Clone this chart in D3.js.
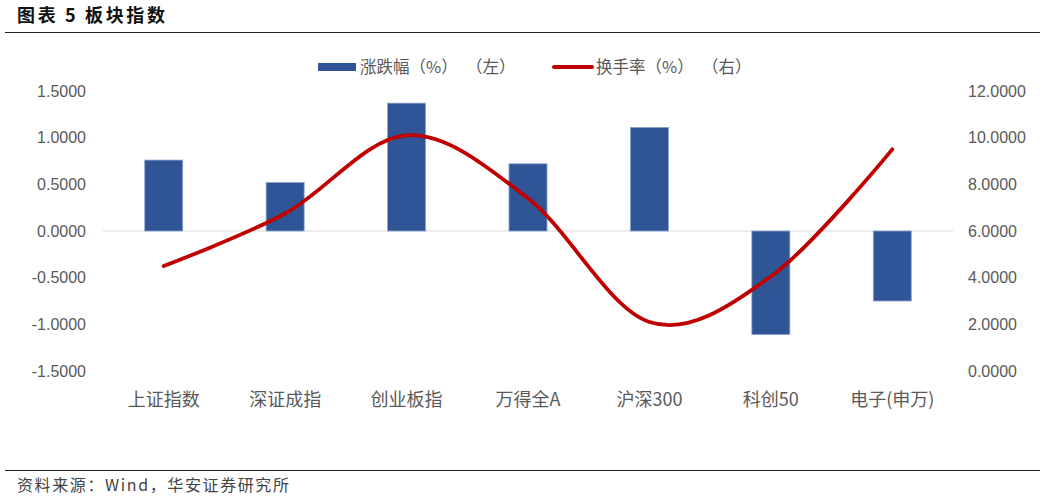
<!DOCTYPE html>
<html>
<head>
<meta charset="utf-8">
<script src="https://cdn.jsdelivr.net/npm/d3@7"></script>
<style>
  body { margin: 0; background: #fff; }
  text { font-family: "Liberation Sans", Arial, "Noto Sans CJK SC", sans-serif; }
  .cjk { font-family: "Noto Sans CJK SC", sans-serif; }
</style>
</head>
<body>
<div id="chart"></div>
<script>
const width = 1046;
const height = 501;

// data
const categories = ["上证指数", "深证成指", "创业板指", "万得全A", "沪深300", "科创50", "电子(申万)"];
const change = [0.76, 0.52, 1.37, 0.72, 1.11, -1.11, -0.75];    // 涨跌幅 (%) left axis
const turnover = [4.5, 6.75, 10.1, 7.4, 2.1, 4.05, 9.5];        // 换手率 (%) right axis
const leftTicks = [1.5, 1.0, 0.5, 0, -0.5, -1.0, -1.5];
const rightTicks = [12, 10, 8, 6, 4, 2, 0];
const legendItems = [
  {name: "涨跌幅（%）", side: "（左）", type: "bar"},
  {name: "换手率（%）", side: "（右）", type: "line"}
];

const fmt = d => d3.format(".4f")(d).replace("−", "-");

const svg = d3.select("#chart")
    .append("svg")
    .attr("width", width)
    .attr("height", height);

// title + rules
svg.append("text")
    .attr("class", "cjk")
    .attr("x", 17).attr("y", 22)
    .attr("font-size", 18).attr("font-weight", "bold")
    .attr("fill", "#111")
    .attr("textLength", 148)
    .text("图表 5 板块指数");
svg.append("line").attr("x1", 5).attr("x2", 1040).attr("y1", 32.5).attr("y2", 32.5)
    .attr("stroke", "#222").attr("stroke-width", 1.2);
svg.append("line").attr("x1", 5).attr("x2", 1040).attr("y1", 470.5).attr("y2", 470.5)
    .attr("stroke", "#222").attr("stroke-width", 1.2);
svg.append("text")
    .attr("class", "cjk")
    .attr("x", 17).attr("y", 491)
    .attr("font-size", 16)
    .attr("fill", "#444")
    .attr("textLength", 272)
    .text("资料来源：Wind，华安证券研究所");

// scales
const x = d3.scaleBand().domain(categories).range([103, 953]).paddingInner(0.687).paddingOuter(0.3435);
const xc = d => x(d) + x.bandwidth() / 2;
const yL = d3.scaleLinear().domain([-1.5, 1.5]).range([371, 91]);
const yR = d3.scaleLinear().domain([0, 12]).range([371, 91]);

// axis labels
svg.append("g").selectAll("text").data(leftTicks).join("text")
    .attr("x", 86).attr("y", d => yL(d))
    .attr("dy", "0.35em").attr("text-anchor", "end")
    .attr("font-size", 16).attr("fill", "#595959")
    .text(fmt);

svg.append("g").selectAll("text").data(rightTicks).join("text")
    .attr("x", 968).attr("y", d => yR(d))
    .attr("dy", "0.35em").attr("text-anchor", "start")
    .attr("font-size", 16).attr("fill", "#595959")
    .text(fmt);

svg.append("g").selectAll("text").data(categories).join("text")
    .attr("class", "cjk")
    .attr("x", d => xc(d)).attr("y", 400)
    .attr("dy", "0.35em").attr("text-anchor", "middle")
    .attr("font-size", 18).attr("fill", "#595959")
    .text(d => d);

// zero line
svg.append("line")
    .attr("x1", 103).attr("x2", 953)
    .attr("y1", yL(0)).attr("y2", yL(0))
    .attr("stroke", "#d9d9d9").attr("stroke-width", 1.2);

// bars
svg.append("g").selectAll("rect").data(change).join("rect")
    .attr("x", (d, i) => x(categories[i]))
    .attr("width", x.bandwidth())
    .attr("y", d => yL(Math.max(0, d)))
    .attr("height", d => Math.abs(yL(d) - yL(0)))
    .attr("fill", "#2f5597")
    .attr("stroke", "#8da4cf").attr("stroke-width", 0.8);

// smoothed turnover line
const line = d3.line()
    .x((d, i) => xc(categories[i]))
    .y(d => yR(d))
    .curve(d3.curveCardinal.tension(0));

svg.append("path")
    .datum(turnover)
    .attr("d", line)
    .attr("fill", "none")
    .attr("stroke", "#c00000")
    .attr("stroke-width", 3.8)
    .attr("stroke-linecap", "round");

// legend
const lg = svg.append("g").selectAll("g").data(legendItems).join("g")
    .attr("transform", (d, i) => `translate(${i === 0 ? 318 : 554},67)`);

lg.filter(d => d.type === "bar").append("rect")
    .attr("x", 0).attr("y", -4).attr("width", 38).attr("height", 8).attr("fill", "#2f5597");
lg.filter(d => d.type === "line").append("line")
    .attr("x1", 0).attr("x2", 38).attr("y1", 0).attr("y2", 0)
    .attr("stroke", "#c00000").attr("stroke-width", 4).attr("stroke-linecap", "round");

lg.append("text").attr("class", "cjk")
    .attr("x", d => d.type === "bar" ? 42 : 42).attr("dy", "0.35em")
    .attr("font-size", 16.5).attr("fill", "#595959")
    .text(d => d.name);
lg.append("text").attr("class", "cjk")
    .attr("x", 148).attr("dy", "0.35em")
    .attr("font-size", 16.5).attr("fill", "#595959")
    .text(d => d.side);
</script>
</body>
</html>
